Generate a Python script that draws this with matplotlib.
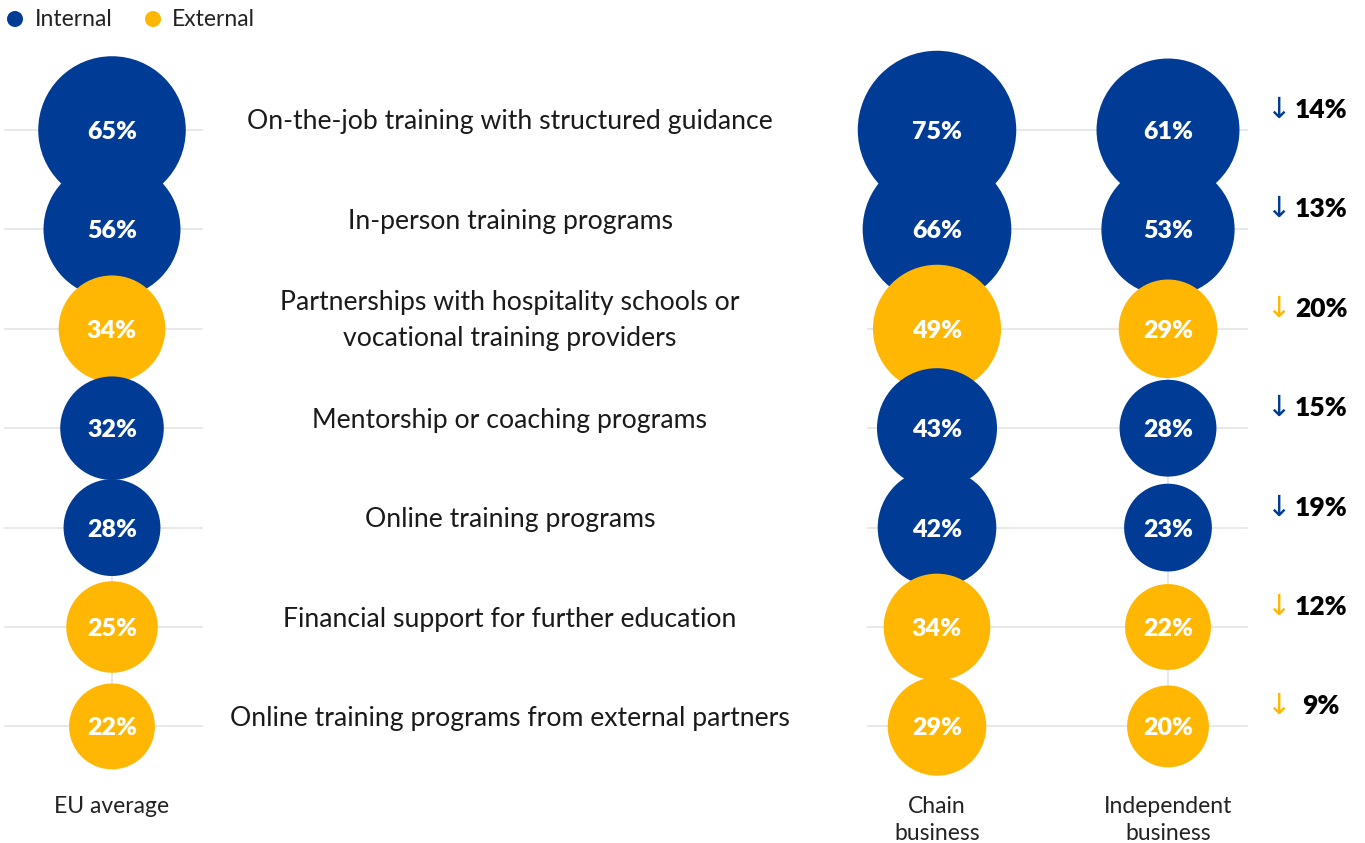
import matplotlib.pyplot as plt
from matplotlib.patches import Circle

plt.rcParams['font.family'] = ['Lato', 'DejaVu Sans']

labels = ["On-the-job training with structured guidance",
          "In-person training programs",
          "Partnerships with hospitality schools or\nvocational training providers",
          "Mentorship or coaching programs",
          "Online training programs",
          "Financial support for further education",
          "Online training programs from external partners"]
kind = ["Internal", "Internal", "External", "Internal", "Internal", "External", "External"]
eu_avg = [65, 56, 34, 32, 28, 25, 22]
chain = [75, 66, 49, 43, 42, 34, 29]
independent = [61, 53, 29, 28, 23, 22, 20]
gap = [14, 13, 20, 15, 19, 12, 9]
col_names = ["EU average", "Chain\nbusiness", "Independent\nbusiness"]

colors = {"Internal": "#003b95", "External": "#ffb703"}
grid_c = "#e4e4e4"

fig = plt.figure(figsize=(13.65, 8.43), dpi=100)
ax = fig.add_axes([0, 0, 1, 1])
ax.set_xlim(0, 1365)
ax.set_ylim(843, 0)
ax.set_aspect('equal')
ax.axis('off')

row_y = [130 + 99.4 * i for i in range(len(labels))]
col_x = [112, 937, 1168]
k = 9.15  # radius per sqrt(percent)

# grid lines
for y in row_y:
    ax.plot([5, 202], [y, y], color=grid_c, lw=1.2, zorder=0)
    ax.plot([868, 1247], [y, y], color=grid_c, lw=1.2, zorder=0)
for x in col_x:
    ax.plot([x, x], [row_y[0], row_y[-1]], color=grid_c, lw=1.2, zorder=0)

for j, vals in enumerate([eu_avg, chain, independent]):
    for i, v in enumerate(vals):
        c = colors[kind[i]]
        ax.add_patch(Circle((col_x[j], row_y[i]), k * v ** 0.5, color=c, lw=0, zorder=2 + i))
        ax.text(col_x[j], row_y[i] + 2, f"{v}%", color="white", fontsize=18, fontweight="heavy",
                ha="center", va="center", zorder=20)
    ax.text(col_x[j], 796, col_names[j], fontsize=16.5, color="#222222", ha="center", va="top",
            linespacing=1.35)

for i, lab in enumerate(labels):
    ax.text(510, row_y[i] - 8, lab, fontsize=19.2, color="#1a1a1a", ha="center", va="center",
            linespacing=1.55)
    ax.text(1278, row_y[i] - 20, "\u2193", fontsize=21, color=colors[kind[i]], ha="center",
            va="center", family="DejaVu Sans", fontweight="normal")
    ax.text(1321, row_y[i] - 20, f"{gap[i]}%", fontsize=19, fontweight="heavy", color="black",
            ha="center", va="center")

# legend
ax.add_patch(Circle((15, 19), 8, color=colors["Internal"], lw=0))
ax.text(35, 19, "Internal", fontsize=16.5, color="#222222", va="center")
ax.add_patch(Circle((153, 19), 8, color=colors["External"], lw=0))
ax.text(172, 19, "External", fontsize=16.5, color="#222222", va="center")

fig.savefig("out.png", dpi=100)
